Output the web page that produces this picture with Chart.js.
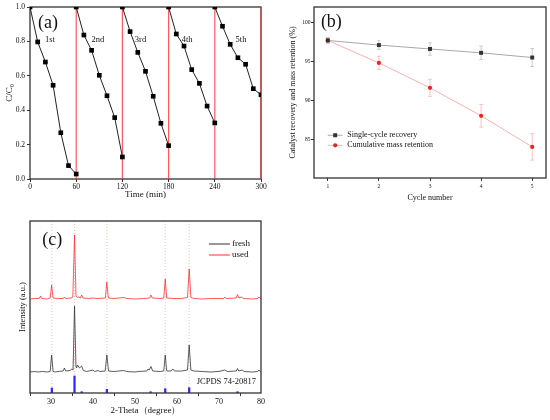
<!DOCTYPE html>
<html>
<head>
<meta charset="utf-8">
<script src="https://cdn.jsdelivr.net/npm/chart.js@4.4.1/dist/chart.umd.min.js"></script>
<style>
html,body{margin:0;padding:0;background:#fff;}
#wrap{position:relative;width:550px;height:420px;overflow:hidden;background:#fff;}
canvas{position:absolute;}
</style>
</head>
<body>
<div id="wrap">
<canvas id="ca" width="275" height="210" style="left:0;top:0"></canvas>
<canvas id="cb" width="275" height="210" style="left:275px;top:0"></canvas>
<canvas id="cc" width="275" height="210" style="left:0;top:210px"></canvas>
</div>
<script>
// ================= DATA =================
// (a) photocatalytic cycles, C/C0 vs time
const cycleStartTimes = [0, 60, 120, 180, 240];
const cycleSampleTimes = [0, 10, 20, 30, 40, 50, 60];
const cycle1 = [1.0, 0.797, 0.680, 0.545, 0.269, 0.078, 0.029];
const cycle2 = [1.0, 0.837, 0.748, 0.603, 0.484, 0.357, 0.128];
const cycle3 = [1.0, 0.857, 0.736, 0.626, 0.481, 0.324, 0.194];
const cycle4 = [1.0, 0.843, 0.773, 0.636, 0.556, 0.424, 0.326];
const cycle5 = [1.0, 0.888, 0.783, 0.705, 0.667, 0.525, 0.490];
const cycleNames = ['1st', '2nd', '3rd', '4th', '5th'];
const cycleNameTimes = [26, 88, 143.5, 204, 274];
const cycleBoundaries = [60, 120, 180, 240, 300];

// (b) recovery / retention vs cycle number
const cycleNumbers = [1, 2, 3, 4, 5];
const singleRecovery = [97.7, 97.1, 96.6, 96.1, 95.5];
const singleRecoveryErr = [0.3, 0.55, 0.8, 0.87, 1.15];
const cumulativeRetention = [97.7, 94.8, 91.6, 88.0, 84.0];
const cumulativeRetentionErr = [0.4, 0.85, 1.1, 1.45, 1.7];
const bYTicks = [85, 90, 95, 100];

// (c) XRD patterns [2θ, intensity a.u.]
const xrdTicks = [30, 40, 50, 60, 70, 80];
const freshPattern = [
  [25,21],[26,21.5],[27,21],[28,21.6],[29,21],[29.8,21.5],[30.15,38],[30.5,21.5],[31,21],[32,21.6],
  [32.9,22],[33.2,25],[33.5,22],[34.6,22.5],[34.9,24],[35.25,23],[35.6,87],[35.95,26],[36.1,25],[36.3,28],
  [36.8,25],[37.3,27],[37.7,22.5],[38.5,21.5],[40,23],[40.4,21.5],[41.2,22.5],[41.6,21.5],[42.9,22],[43.3,38],
  [43.7,22],[45,21.5],[47.3,22.5],[48,21.5],[50,21],[51,21.6],[52.8,22],[53.1,24],[53.4,23],[53.8,26.5],
  [54.2,22],[56,21.5],[56.85,22],[57.2,38],[57.55,22],[58.6,22],[59,24],[59.4,22],[61,22],[62.5,23],
  [62.9,48],[63.3,23],[64,22],[66,21.5],[68,21],[70,21.6],[71.4,23],[72,21.5],[74.1,22],[74.4,24.5],
  [74.7,22],[75.5,23],[76,21.5],[78,21],[79.2,21.5],[79.5,23],[79.8,21.5],[80,21.5]
];
const usedPattern = [
  [25,94],[26,94.5],[27.2,94.5],[27.5,97],[27.8,94.5],[29,94],[29.8,95],[30.15,108],[30.5,95],[31.5,94.5],
  [32.9,94.5],[33.2,96],[33.5,94.5],[34.8,95],[35.2,96],[35.6,158],[35.95,97],[36.3,95.5],[36.6,96],[37,95],
  [37.3,98],[37.6,95],[39,94.5],[40,95],[41,94.5],[42.95,95],[43.3,111],[43.65,95],[45,94.5],[47.3,95.5],
  [48,94.5],[50,94],[52,94.5],[53.5,95],[53.8,98],[54.1,95],[56,94.5],[56.85,95],[57.2,114],[57.55,95],
  [59,94.5],[61,94.5],[62.5,95.5],[62.9,124],[63.3,95.5],[64,94.5],[66,94],[68,94.5],[71.1,94.5],[71.4,96],
  [71.7,94.5],[74.1,95],[74.4,98.5],[74.7,95],[75.4,96],[75.8,94.5],[78,94],[79.2,94.5],[79.5,96],[79.8,94.5],[80,94.5]
];
const jcpdsPositions = [30.2, 35.6, 37.3, 43.3, 53.7, 57.2, 62.9, 74.4];
const jcpdsIntensities = [5, 17, 1.3, 3.7, 1.3, 4.3, 5.3, 1.3];
const guideLines = [30.2, 35.6, 43.3, 57.2, 62.9];

// ================= HELPERS =================
const SERIF = '"Liberation Serif","Times New Roman",serif';
const TXT = '#111';

function framePlugin(hook, color, width) {
  return {
    id: 'frame_' + hook,
    [hook](chart) {
      const { ctx, chartArea: a } = chart;
      ctx.save();
      ctx.strokeStyle = color;
      ctx.lineWidth = width;
      ctx.strokeRect(a.left, a.top, a.right - a.left, a.bottom - a.top);
      ctx.restore();
    }
  };
}

function textPlugin(items) {
  return {
    id: 'texts',
    afterDraw(chart) {
      const ctx = chart.ctx, xs = chart.scales.x, ys = chart.scales.y;
      ctx.save();
      items.forEach(it => {
        ctx.font = it.font;
        ctx.fillStyle = it.color || TXT;
        ctx.textAlign = it.align || 'center';
        ctx.textBaseline = 'middle';
        ctx.fillText(it.text, xs.getPixelForValue(it.x), ys.getPixelForValue(it.y));
      });
      ctx.restore();
    }
  };
}

function axisX(opts) {
  return Object.assign({
    type: 'linear',
    offset: false,
    border: { display: false },
    grid: { drawOnChartArea: false, drawTicks: true, tickLength: 3, tickColor: '#333', tickWidth: 1 },
  }, opts);
}

// ================= CHART (a) =================
const cycles = [cycle1, cycle2, cycle3, cycle4, cycle5];
new Chart(document.getElementById('ca'), {
  type: 'line',
  data: {
    datasets: [
      ...cycleBoundaries.map(t => ({
        data: [{ x: t, y: 0 }, { x: t, y: 1 }],
        borderColor: 'rgba(255,60,60,0.85)', borderWidth: 1.2, pointRadius: 0, order: 2
      })),
      ...cycles.map((c, i) => ({
        data: c.map((v, j) => ({ x: cycleStartTimes[i] + cycleSampleTimes[j], y: v })),
        borderColor: '#222', borderWidth: 1, pointStyle: 'rect', pointRadius: 3.3,
        pointBackgroundColor: '#000', pointBorderColor: '#000', pointBorderWidth: 0, order: 1
      }))
    ]
  },
  options: {
    responsive: false, animation: false,
    layout: { padding: { top: 7, right: 14, left: 0, bottom: 0 } },
    plugins: { legend: { display: false }, tooltip: { enabled: false } },
    scales: {
      x: axisX({
        min: 0, max: 300,
        ticks: { stepSize: 60, font: { family: SERIF, size: 7.5 }, color: TXT, padding: 1, maxRotation: 0 },
        title: { display: true, text: 'Time (min)', font: { family: SERIF, size: 9 }, color: TXT, padding: { top: 0, bottom: 10 } },
        afterFit: s => { s.height = 31; }
      }),
      y: axisX({
        min: 0, max: 1,
        ticks: { stepSize: 0.2, callback: v => v.toFixed(1), font: { family: SERIF, size: 7.5 }, color: TXT, padding: 2 },
        title: { display: true, text: 'C/C₀', font: { family: SERIF, size: 9 }, color: TXT, padding: { top: 4.6, bottom: 0 } },
        afterFit: s => { s.width = 30; }
      })
    }
  },
  plugins: [
    framePlugin('beforeDatasetsDraw', '#333', 1.3),
    textPlugin([
      { text: '(a)', x: 23.5, y: 0.905, font: '18px ' + SERIF },
      ...cycleNames.map((n, i) => ({ text: n, x: cycleNameTimes[i], y: 0.812, font: '8.5px ' + SERIF }))
    ])
  ]
});

// ================= CHART (b) =================
function errorBarPlugin(series) {
  return {
    id: 'errbars',
    beforeDatasetsDraw(chart) {
      const ctx = chart.ctx, xs = chart.scales.x, ys = chart.scales.y;
      ctx.save();
      series.forEach(s => {
        ctx.strokeStyle = s.color;
        ctx.lineWidth = 0.9;
        s.values.forEach((v, i) => {
          const px = xs.getPixelForValue(cycleNumbers[i]);
          const y1 = ys.getPixelForValue(v - s.err[i]);
          const y2 = ys.getPixelForValue(v + s.err[i]);
          ctx.beginPath();
          ctx.moveTo(px, y1); ctx.lineTo(px, y2);
          ctx.moveTo(px - 1.8, y1); ctx.lineTo(px + 1.8, y1);
          ctx.moveTo(px - 1.8, y2); ctx.lineTo(px + 1.8, y2);
          ctx.stroke();
        });
      });
      ctx.restore();
    }
  };
}

function legendBPlugin(items) {
  return {
    id: 'legendB',
    afterDraw(chart) {
      const ctx = chart.ctx, xs = chart.scales.x, ys = chart.scales.y;
      ctx.save();
      items.forEach(it => {
        const x1 = xs.getPixelForValue(it.x1), x2 = xs.getPixelForValue(it.x2);
        const py = ys.getPixelForValue(it.y);
        ctx.strokeStyle = it.line; ctx.lineWidth = 1;
        ctx.beginPath(); ctx.moveTo(x1, py); ctx.lineTo(x2, py); ctx.stroke();
        ctx.fillStyle = it.marker;
        const mx = (x1 + x2) / 2;
        ctx.beginPath();
        if (it.shape === 'rect') ctx.rect(mx - 2, py - 2, 4, 4);
        else ctx.arc(mx, py, 2.1, 0, Math.PI * 2);
        ctx.fill();
        ctx.font = '8px ' + SERIF;
        ctx.fillStyle = TXT;
        ctx.textAlign = 'left'; ctx.textBaseline = 'middle';
        ctx.fillText(it.text, xs.getPixelForValue(it.tx), py);
      });
      ctx.restore();
    }
  };
}

new Chart(document.getElementById('cb'), {
  type: 'line',
  data: {
    datasets: [
      {
        data: cycleNumbers.map((c, i) => ({ x: c, y: singleRecovery[i] })),
        borderColor: '#a8a8a8', borderWidth: 1, pointStyle: 'rect', pointRadius: 2.8,
        pointBackgroundColor: '#333', pointBorderColor: '#333', pointBorderWidth: 0
      },
      {
        data: cycleNumbers.map((c, i) => ({ x: c, y: cumulativeRetention[i] })),
        borderColor: '#ffb0b0', borderWidth: 1, pointStyle: 'circle', pointRadius: 2.1,
        pointBackgroundColor: '#ee2222', pointBorderColor: '#ee2222', pointBorderWidth: 0
      }
    ]
  },
  options: {
    responsive: false, animation: false,
    layout: { padding: { top: 7, right: 3, left: 0, bottom: 0 } },
    plugins: { legend: { display: false }, tooltip: { enabled: false } },
    scales: {
      x: axisX({
        min: 0.73, max: 5.27,
        afterBuildTicks: s => { s.ticks = cycleNumbers.map(v => ({ value: v })); },
        ticks: { font: { family: SERIF, size: 5.5 }, color: TXT, padding: 2, maxRotation: 0 },
        title: { display: true, text: 'Cycle number', font: { family: SERIF, size: 8 }, color: TXT, padding: { top: 0, bottom: 7 } },
        afterFit: s => { s.height = 32; }
      }),
      y: axisX({
        min: 80, max: 102,
        afterBuildTicks: s => { s.ticks = bYTicks.map(v => ({ value: v })); },
        ticks: { font: { family: SERIF, size: 5.5 }, color: TXT, padding: 0.5 },
        title: { display: true, text: 'Catalyst recovery and mass retention (%)', font: { family: SERIF, size: 8 }, color: TXT, padding: { top: 13, bottom: 0 } },
        afterFit: s => { s.width = 39; }
      })
    }
  },
  plugins: [
    errorBarPlugin([
      { values: singleRecovery, err: singleRecoveryErr, color: '#c4c4c4' },
      { values: cumulativeRetention, err: cumulativeRetentionErr, color: '#ffb8b8' }
    ]),
    framePlugin('afterDraw', '#333', 1.3),
    legendBPlugin([
      { x1: 1.0, x2: 1.29, tx: 1.38, y: 85.5, line: '#a8a8a8', marker: '#333', shape: 'rect', text: 'Single-cycle recovery' },
      { x1: 1.0, x2: 1.29, tx: 1.38, y: 84.2, line: '#ffb0b0', marker: '#ee2222', shape: 'circle', text: 'Cumulative mass retention' }
    ]),
    textPlugin([{ text: '(b)', x: 1.07, y: 100.0, font: '18px ' + SERIF }])
  ]
});

// ================= CHART (c) =================
function legendCPlugin(items) {
  return {
    id: 'legendC',
    afterDraw(chart) {
      const ctx = chart.ctx, xs = chart.scales.x, ys = chart.scales.y;
      ctx.save();
      items.forEach(it => {
        const py = ys.getPixelForValue(it.y);
        ctx.strokeStyle = it.color; ctx.lineWidth = 1;
        ctx.beginPath(); ctx.moveTo(xs.getPixelForValue(it.x1), py); ctx.lineTo(xs.getPixelForValue(it.x2), py); ctx.stroke();
        ctx.font = '9px ' + SERIF; ctx.fillStyle = TXT;
        ctx.textAlign = 'left'; ctx.textBaseline = 'middle';
        ctx.fillText(it.text, xs.getPixelForValue(it.tx), py);
      });
      ctx.restore();
    }
  };
}

new Chart(document.getElementById('cc'), {
  type: 'line',
  data: {
    datasets: [
      ...guideLines.map(g => ({
        data: [{ x: g, y: 0 }, { x: g, y: 172 }],
        borderColor: '#ffa8a8', borderWidth: 0.8, borderDash: [1, 2], pointRadius: 0, order: 4
      })),
      {
        type: 'bar',
        data: jcpdsPositions.map((p, i) => ({ x: p, y: jcpdsIntensities[i] })),
        backgroundColor: '#2a2aff', barThickness: 1.6, grouped: false, order: 3
      },
      {
        data: freshPattern.map(([x, y]) => ({ x, y })),
        borderColor: '#333', borderWidth: 0.8, pointRadius: 0, tension: 0, order: 2
      },
      {
        data: usedPattern.map(([x, y]) => ({ x, y })),
        borderColor: '#ff3030', borderWidth: 0.8, pointRadius: 0, tension: 0, order: 1
      }
    ]
  },
  options: {
    responsive: false, animation: false,
    layout: { padding: { top: 11, right: 14, left: 0, bottom: 0 } },
    plugins: { legend: { display: false }, tooltip: { enabled: false } },
    scales: {
      x: axisX({
        min: 25, max: 80,
        afterBuildTicks: s => { s.ticks = xrdTicks.map(v => ({ value: v })); },
        ticks: { font: { family: SERIF, size: 8 }, color: TXT, padding: 1, maxRotation: 0 },
        title: { display: true, text: '2-Theta（degree）', font: { family: SERIF, size: 9 }, color: TXT, padding: { top: 0, bottom: 4 } },
        afterFit: s => { s.height = 27; }
      }),
      y: {
        type: 'linear', min: 0, max: 172,
        border: { display: false },
        grid: { display: false },
        ticks: { display: false },
        title: { display: true, text: 'Intensity (a.u.)', font: { family: SERIF, size: 8.5 }, color: TXT, padding: { top: 17.5, bottom: 0 } },
        afterFit: s => { s.width = 30; }
      }
    }
  },
  plugins: [
    framePlugin('afterDraw', '#333', 1.3),
    legendCPlugin([
      { x1: 67.6, x2: 72.6, tx: 73.1, y: 149, color: '#333', text: 'fresh' },
      { x1: 67.6, x2: 72.6, tx: 73.1, y: 138, color: '#ff3030', text: 'used' }
    ]),
    textPlugin([
      { text: '(c)', x: 30.3, y: 153, font: '18px ' + SERIF },
      { text: 'JCPDS 74-20817', x: 78.8, y: 11.3, font: '8.5px ' + SERIF, align: 'right' }
    ])
  ]
});
</script>
</body>
</html>
